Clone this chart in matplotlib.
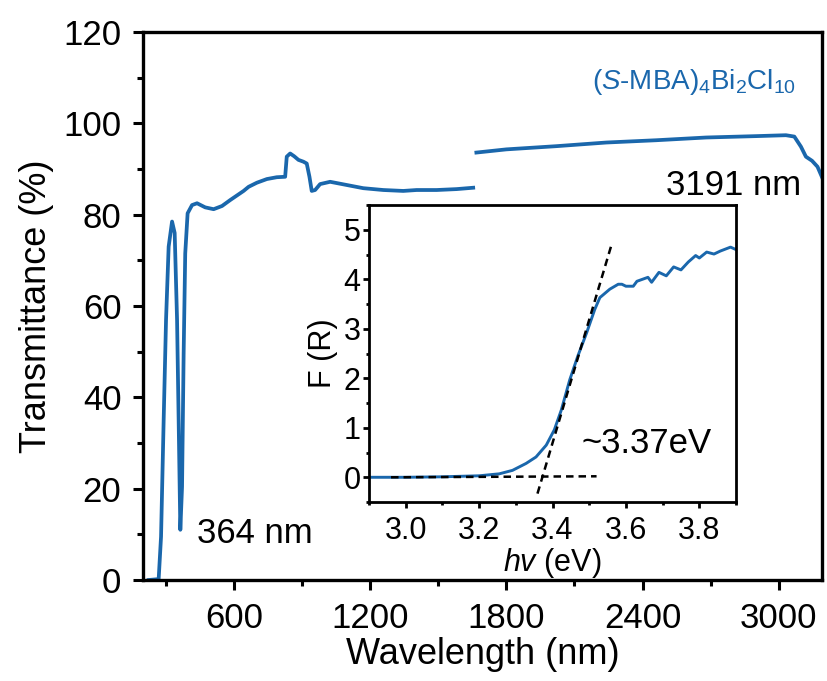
import matplotlib
matplotlib.use("Agg")
import matplotlib.pyplot as plt
from matplotlib.ticker import MultipleLocator

plt.rcParams["font.family"] = ["Liberation Sans", "DejaVu Sans"]
plt.rcParams["mathtext.fontset"] = "custom"
plt.rcParams["mathtext.rm"] = "Liberation Sans"
plt.rcParams["mathtext.it"] = "Liberation Sans:italic"

blue = "#1a67ac"

# transmittance, first detector range
wl_1 = [225, 269, 279.5, 291, 301.5, 313, 328, 339.5, 350, 357, 364.4, 372, 379, 386,
        396.5, 416, 438, 474, 511, 548, 584, 643, 665, 701.5, 745.5, 789, 826, 833,
        848, 865.5, 884.5, 906.5, 921, 933, 943, 958, 980, 1024, 1097, 1170, 1258,
        1346, 1405, 1493, 1581, 1654]
tr_1 = [0, 0.2, 9.5, 35, 57, 73, 78.5, 76, 57, 35, 11, 20.4, 49.6, 71.5,
        80.3, 82.1, 82.5, 81.6, 81.2, 81.9, 83.2, 85.2, 86.1, 87, 87.8, 88.2, 88.3, 92.7,
        93.4, 92.8, 92, 91.6, 91.2, 88.3, 85.2, 85.4, 86.7, 87.2, 86.5, 85.8, 85.4,
        85.2, 85.4, 85.4, 85.6, 85.9]

# transmittance, second detector range
wl_2 = [1668, 1800, 2020, 2240, 2460, 2680, 2899, 3031, 3068, 3097, 3119, 3146, 3170, 3190]
tr_2 = [93.6, 94.3, 95.0, 95.8, 96.3, 96.9, 97.2, 97.4, 97.1, 94.9, 92.7, 91.8, 90.5, 88.2]

# Kubelka-Munk inset
ev = [2.90, 3.00, 3.10, 3.20, 3.255, 3.291, 3.328, 3.355, 3.383, 3.405, 3.424, 3.447,
      3.469, 3.493, 3.515, 3.529, 3.556, 3.579, 3.589, 3.60, 3.62, 3.63, 3.66, 3.67,
      3.69, 3.71, 3.73, 3.75, 3.77, 3.79, 3.80, 3.82, 3.84, 3.857, 3.885, 3.90]
fr = [0.0, 0.0, 0.01, 0.03, 0.07, 0.14, 0.28, 0.41, 0.65, 0.96, 1.36, 1.97,
      2.45, 2.92, 3.39, 3.63, 3.80, 3.90, 3.90, 3.86, 3.86, 3.96, 4.04, 3.94,
      4.14, 4.07, 4.25, 4.19, 4.35, 4.48, 4.43, 4.55, 4.51, 4.57, 4.65, 4.60]

tangent_x = [3.359, 3.56]
tangent_y = [-0.33, 4.68]
base_x = [2.96, 3.52]
base_y = [0.0, 0.02]

fig = plt.figure(figsize=(8.27, 6.81), dpi=100)
ax = fig.add_axes([0.1729, 0.1483, 0.8211, 0.8047])
ax.plot(wl_1, tr_1, color=blue, lw=2.7)
ax.plot(wl_2, tr_2, color=blue, lw=2.7)
ax.set_xlim(200, 3190)
ax.set_ylim(0, 120)
ax.xaxis.set_minor_locator(MultipleLocator(300))
ax.yaxis.set_major_locator(MultipleLocator(20))
ax.yaxis.set_minor_locator(MultipleLocator(10))
ax.set_xticks([600, 1200, 1800, 2400, 3000])
ax.tick_params(which="major", direction="out", length=7.5, width=2.2, labelsize=25, pad=8)
ax.tick_params(which="minor", direction="out", length=4.5, width=2.2)
for s in ax.spines.values():
    s.set_linewidth(2.4)
ax.set_xlabel("Wavelength (nm)", fontsize=26, labelpad=2)
ax.set_ylabel("Transmittance (%)", fontsize=26, labelpad=7)

ax.text(439, 8.1, "364 nm", fontsize=25, va="baseline")
ax.text(3097, 84.3, "3191 nm", fontsize=25, va="baseline", ha="right")
ax.text(3075, 107.6, r"($\mathit{S}$-MBA)$_4$Bi$_2$Cl$_{10}$", fontsize=20,
        color=blue, va="baseline", ha="right")

ins = fig.add_axes([0.4462, 0.2628, 0.4438, 0.4361])
ins.plot(ev, fr, color=blue, lw=2.1)
ins.plot(tangent_x, tangent_y, color="black", lw=1.8, ls=(0, (3, 2)))
ins.plot(base_x, base_y, color="black", lw=1.8, ls=(0, (3, 2)))
ins.set_xlim(2.9, 3.9)
ins.set_ylim(-0.5, 5.5)
ins.xaxis.set_minor_locator(MultipleLocator(0.1))
ins.yaxis.set_minor_locator(MultipleLocator(0.5))
ins.set_xticks([3.0, 3.2, 3.4, 3.6, 3.8])
ins.set_yticks([0, 1, 2, 3, 4, 5])
ins.tick_params(which="major", direction="out", length=4, width=2.0, labelsize=22)
ins.tick_params(which="minor", direction="out", length=2.5, width=2.0)
ins.tick_params(axis="x", which="major", pad=6)
ins.tick_params(axis="y", which="major", pad=2)
for s in ins.spines.values():
    s.set_linewidth(2.0)
ins.set_xlabel(r"$hv$ (eV)", fontsize=22, labelpad=0)
ins.set_ylabel("F (R)", fontsize=22, labelpad=4)
ins.text(3.479, 0.49, "~3.37eV", fontsize=25, va="baseline")

fig.savefig("out.png", dpi=100)
plt.close(fig)
